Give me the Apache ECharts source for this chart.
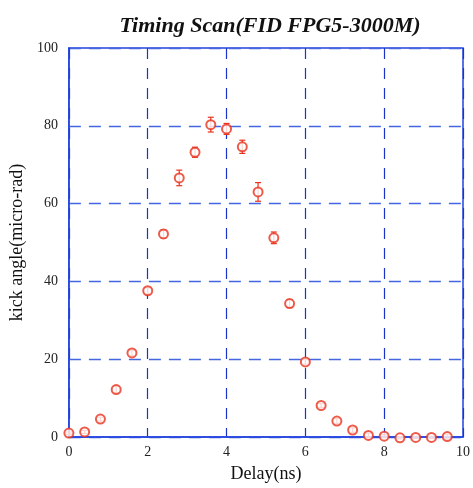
<!DOCTYPE html>
<html><head><meta charset="utf-8">
<script src="https://cdn.jsdelivr.net/npm/echarts@6/dist/echarts.min.js"></script>
<style>html,body{margin:0;padding:0;background:#fff;overflow:hidden}#c{width:473px;height:488px}</style>
</head><body><div id="c"></div>
<script>
var delay = [0, 0.4, 0.8, 1.2, 1.6, 2.0, 2.4, 2.8, 3.2, 3.6, 4.0, 4.4, 4.8, 5.2, 5.6, 6.0, 6.4, 6.8, 7.2, 7.6, 8.0, 8.4, 8.8, 9.2, 9.6];
var kick = [1.0, 1.3, 4.6, 12.2, 21.6, 37.6, 52.2, 66.6, 73.2, 80.3, 79.2, 74.6, 63.0, 51.2, 34.3, 19.3, 8.1, 4.1, 1.8, 0.4, 0.2, -0.2, -0.1, -0.1, 0.1];
var kickErr = [0.3, 0.4, 0.5, 0.8, 0.7, 0.8, 1.0, 2.0, 1.3, 1.9, 1.4, 1.7, 2.4, 1.5, 1.0, 0.6, 0.5, 0.6, 0.6, 0.6, 0.4, 0.3, 0.3, 0.3, 0.6];
var xTicks = [0, 2, 4, 6, 8, 10];
var yTicks = [0, 20, 40, 60, 80, 100];

var red = '#e8321e';
var serif = '"Liberation Serif", "DejaVu Serif", serif';
var pts = delay.map(function (d, i) { return [d, kick[i]]; });
var errData = delay.map(function (d, i) { return [d, kick[i] - kickErr[i], kick[i] + kickErr[i]]; });

var chart = echarts.init(document.getElementById('c'), null, {renderer: 'canvas'});
chart.setOption({
  animation: false,
  backgroundColor: '#fff',
  title: {
    text: 'Timing Scan(FID FPG5-3000M)',
    left: 265, top: 10, textAlign: 'center',
    textStyle: {fontFamily: serif, fontSize: 22, fontWeight: 'bold', fontStyle: 'italic', color: '#111'}
  },
  grid: {left: 68, right: 9, top: 48, bottom: 46, show: true, borderColor: '#2244e0', borderWidth: 1.5, backgroundColor: 'transparent'},
  xAxis: {
    type: 'value', min: 0, max: 10, interval: 2,
    name: 'Delay(ns)', nameLocation: 'middle', nameGap: 28,
    nameTextStyle: {fontFamily: serif, fontSize: 18, color: '#111'},
    axisLine: {show: true, onZero: false, lineStyle: {color: '#2244e0', width: 1.5}},
    axisTick: {show: false},
    axisLabel: {fontFamily: serif, fontSize: 14, color: '#222', margin: 8,
      formatter: function (v) { return xTicks.indexOf(v) >= 0 ? String(v) : ''; }},
    splitLine: {show: true, lineStyle: {color: '#1a33c8', type: [11, 9], width: 1.2}}
  },
  yAxis: {
    type: 'value', min: 0, max: 100, interval: 20,
    name: 'kick angle(micro-rad)', nameLocation: 'middle', nameGap: 40,
    nameTextStyle: {fontFamily: serif, fontSize: 18, color: '#111'},
    axisLine: {show: true, onZero: false, lineStyle: {color: '#2244e0', width: 1.5}},
    axisTick: {show: false},
    axisLabel: {fontFamily: serif, fontSize: 14, color: '#222', margin: 11,
      formatter: function (v) { return yTicks.indexOf(v) >= 0 ? String(v) : ''; }},
    splitLine: {show: true, lineStyle: {color: '#4466e0', type: [12, 8], width: 1.3}}
  },
  series: [
    {
      type: 'custom',
      data: errData,
      z: 3,
      clip: false,
      renderItem: function (params, api) {
        var x = api.value(0);
        var lo = api.coord([x, api.value(1)]);
        var hi = api.coord([x, api.value(2)]);
        var w = 3;
        var st = {stroke: red, lineWidth: 1.2};
        return {
          type: 'group',
          children: [
            {type: 'line', shape: {x1: lo[0], y1: lo[1], x2: hi[0], y2: hi[1]}, style: st},
            {type: 'line', shape: {x1: lo[0] - w, y1: lo[1], x2: lo[0] + w, y2: lo[1]}, style: st},
            {type: 'line', shape: {x1: hi[0] - w, y1: hi[1], x2: hi[0] + w, y2: hi[1]}, style: st}
          ]
        };
      }
    },
    {
      type: 'scatter',
      data: pts,
      symbol: 'emptyCircle',
      symbolSize: 9,
      clip: false,
      z: 4,
      itemStyle: {color: red, borderColor: red, borderWidth: 1.2}
    }
  ]
});
</script></body></html>
